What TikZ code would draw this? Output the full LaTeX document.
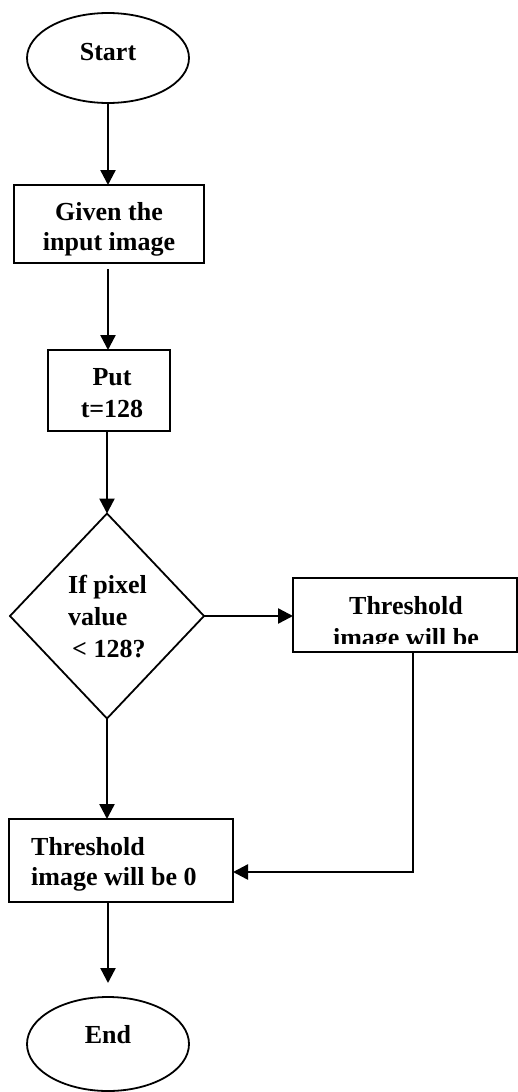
\documentclass[tikz,border=0pt]{standalone}
\usepackage{fontspec}
\setmainfont{Liberation Serif}
\usetikzlibrary{shapes.geometric,arrows.meta}
\begin{document}
\begin{tikzpicture}[x=1pt,y=-1pt,
  shapeline/.style={draw,line width=1.8pt,inner sep=0pt,outer sep=0pt},
  term/.style={shapeline,ellipse,minimum width=162pt},
  box/.style={shapeline,rectangle,anchor=north west},
  decision/.style={shapeline,diamond,minimum width=194pt,minimum height=205pt},
  txt/.style={font=\fontsize{26pt}{30pt}\selectfont\bfseries,inner sep=0pt},
  arrow/.style={line width=2.4pt,-{Triangle[width=15pt,length=15pt]}}
]
\useasboundingbox (0,0) rectangle (518,1092);

% shapes
\node[term,minimum height=90pt] (start) at (108,58) {};
\node[box,minimum width=190pt,minimum height=78pt] (given) at (14,185) {};
\node[box,minimum width=122pt,minimum height=81pt] (put) at (48,350) {};
\node[decision] (dec) at (107,616) {};
\node[box,minimum width=224pt,minimum height=74pt] (right) at (293,578) {};
\node[box,minimum width=224pt,minimum height=83pt] (zero) at (9,819) {};
\node[term,minimum height=94pt] (end) at (108,1044) {};

% texts
\node[txt,anchor=base] (tstart) at (108,60) {Start};
\node[txt,anchor=base] (tgiven1) at (109,220) {Given the};
\node[txt,anchor=base] (tgiven2) at (109,250) {input image};
\node[txt,anchor=base] (tput1) at (112,385) {Put};
\node[txt,anchor=base] (tput2) at (112,417) {t=128};
\node[txt,anchor=base west] (tdec1) at (68,593) {If pixel};
\node[txt,anchor=base west] (tdec2) at (68,625) {value};
\node[txt,anchor=base west] (tdec3) at (72,657) {< 128?};
\node[txt,anchor=base] (tright1) at (406,614) {Threshold};
\begin{scope}
  \clip (293,578) rectangle (517,643);
  \node[txt,anchor=base] (tright2) at (406,646) {image will be};
\end{scope}
\node[txt,anchor=base west] (tzero1) at (31,855) {Threshold};
\node[txt,anchor=base west] (tzero2) at (31,885) {image will be 0};
\node[txt,anchor=base] (tend) at (108,1043) {End};

% connectors
\coordinate (bend) at (413,872);
\draw[arrow] (start.south) -- (given.north -| start.south);
\draw[arrow,shorten <=6pt] (given.south -| start.south) -- (put.north -| start.south);
\draw[arrow] (put.south -| dec.north) -- (dec.north);
\draw[arrow] (dec.east) -- (right.west |- dec.east);
\draw[arrow] (dec.south) -- (zero.north -| dec.south);
\draw[arrow] (right.south -| bend) -- (bend) -- (zero.east |- bend);
\draw[arrow,shorten >=14pt] (zero.south -| end.north) -- (end.north);
\end{tikzpicture}
\end{document}
